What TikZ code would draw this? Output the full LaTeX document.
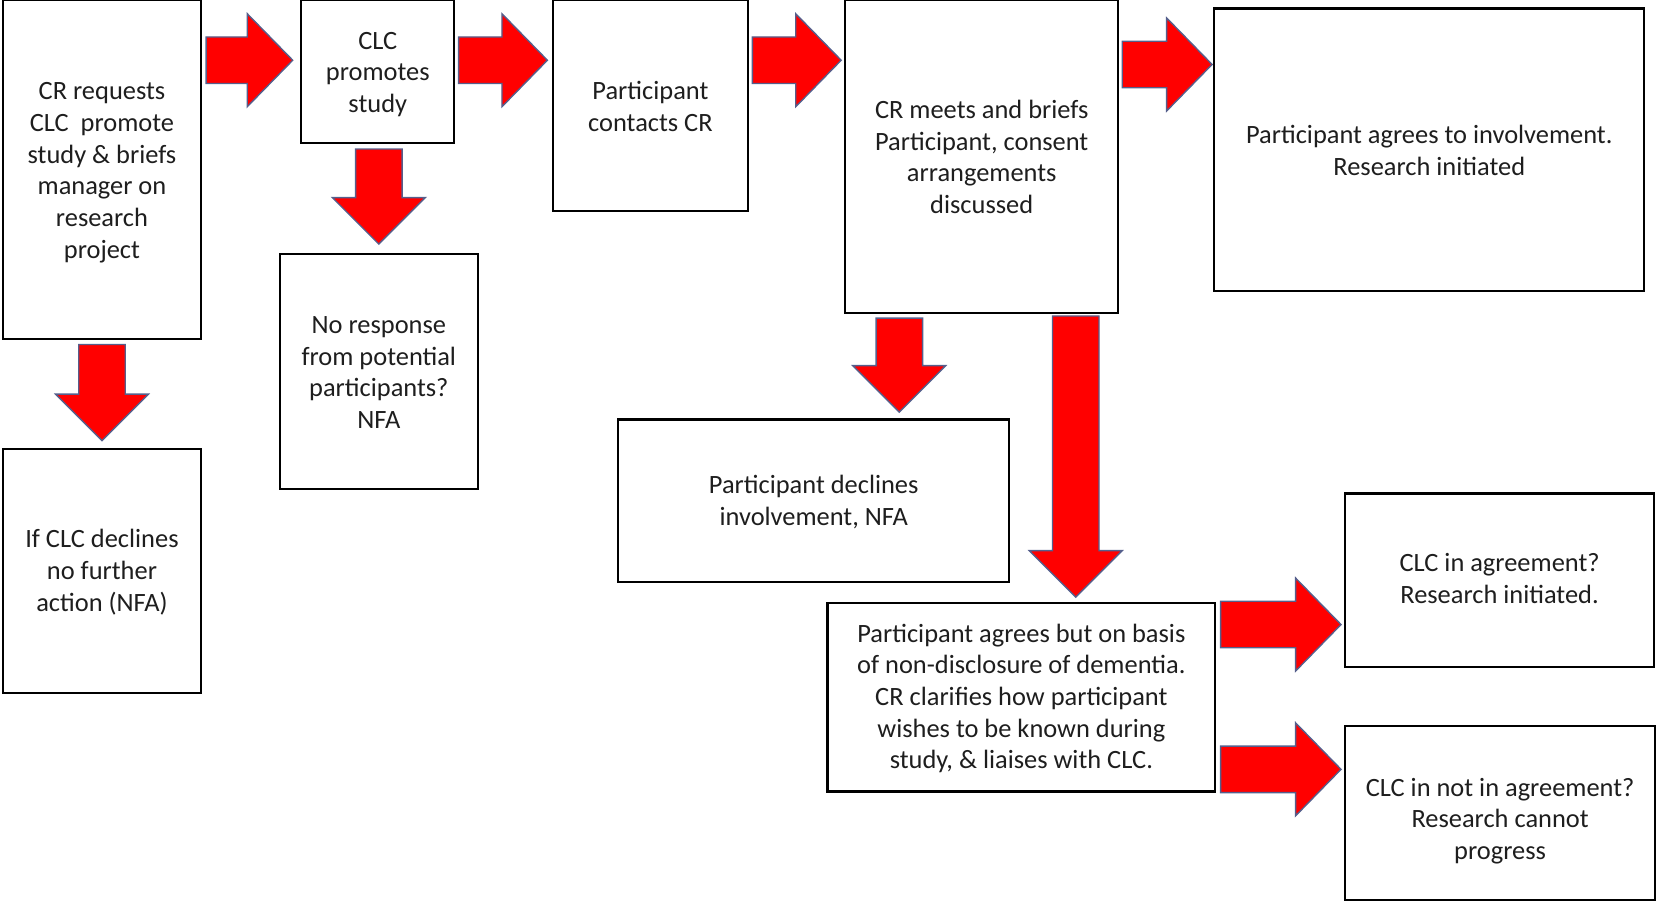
\documentclass[tikz,border=0pt]{standalone}
\usepackage{fontspec}
\setmainfont{Carlito}
\usetikzlibrary{calc}
\definecolor{arrowred}{RGB}{255,0,0}
\definecolor{arrowedge}{RGB}{85,95,140}
\definecolor{inktext}{RGB}{30,30,30}

% Block arrow pointing right: #1 = tail point, #2 = tip point
\newcommand\rightblock[2]{%
  \draw[blk] let \p1=(#1), \p2=(#2) in
    (\x1,\y2+22pt) -- (\x2-43pt,\y2+22pt) -- (\x2-43pt,\y2+44pt) -- (\x2,\y2)
    -- (\x2-43pt,\y2-44pt) -- (\x2-43pt,\y2-22pt) -- (\x1,\y2-22pt) -- cycle;}
% Block arrow pointing down: #1 = tail point, #2 = tip point
\newcommand\downblock[2]{%
  \draw[blk] let \p1=(#1), \p2=(#2) in
    (\x2-22pt,\y1) -- (\x2-22pt,\y2+44pt) -- (\x2-44pt,\y2+44pt) -- (\x2,\y2)
    -- (\x2+44pt,\y2+44pt) -- (\x2+22pt,\y2+44pt) -- (\x2+22pt,\y1) -- cycle;}

\begin{document}
\begin{tikzpicture}[x=1pt,y=-1pt,
  txt/.style={inner sep=0pt, align=center, text=inktext,
    font=\fontsize{25}{30}\selectfont},
  box/.style={draw=black, line width=2pt, fill=white, inner sep=0pt},
  blk/.style={fill=arrowred, draw=arrowedge, line width=1.3pt, line join=miter}]

\useasboundingbox (0,0) rectangle (1568,854);

% Boxes
\node[box, minimum width=187, minimum height=321] (A) at (96.5,160.5) {};
\node[box, minimum width=145, minimum height=135] (B) at (357.5,67.5) {};
\node[box, minimum width=185, minimum height=200] (C) at (615.5,100) {};
\node[box, minimum width=258, minimum height=296] (D) at (929,148) {};
\node[box, minimum width=407, minimum height=267] (E) at (1352.5,141.5) {};
\node[box, minimum width=187, minimum height=231] (F) at (96.5,540.5) {};
\node[box, minimum width=187, minimum height=223] (G) at (358.5,351.5) {};
\node[box, minimum width=370, minimum height=154] (H) at (770,474) {};
\node[box, minimum width=367, minimum height=178] (I) at (966.5,660) {};
\node[box, minimum width=292, minimum height=164] (J) at (1419,549) {};
\node[box, minimum width=293, minimum height=165] (K) at (1419.5,769.5) {};

% Box texts
\node[txt] (At) at ($(A.center)+(0,3)$)
  {CR requests\\CLC~ promote\\study \& briefs\\manager on\\research\\project};
\node[txt] (Bt) at ($(B.center)+(0,3)$) {CLC\\promotes\\study};
\node[txt] (Ct) at ($(C.center)+(0,0.5)$) {Participant\\contacts CR};
\node[txt] (Dt) at ($(D.center)+(0,0.5)$)
  {CR meets and briefs\\Participant, consent\\arrangements\\discussed};
\node[txt] (Et) at ($(E.center)+(0,1)$)
  {Participant agrees to involvement.\\Research initiated};
\node[txt] (Ft) at ($(F.center)+(0,1)$) {If CLC declines\\no further\\action (NFA)};
\node[txt] (Gt) at ($(G.center)+(0,1)$)
  {No response\\from potential\\participants?\\NFA};
\node[txt] (Ht) at ($(H.center)+(0,1)$) {Participant declines\\involvement, NFA};
\node[txt] (It) at ($(I.center)+(0,1)$)
  {Participant agrees but on basis\\of non-disclosure of dementia.\\CR clarifies how participant\\wishes to be known during\\study, \& liaises with CLC.};
\node[txt] (Jt) at ($(J.center)+(0,-1.5)$) {CLC in agreement?\\Research initiated.};
\node[txt] (Kt) at ($(K.center)+(0,7.5)$)
  {CLC in not in agreement?\\Research cannot\\progress};

% Arrows along the top row
\rightblock{$(A.north east)+(4,58)$}{$(B.north west)+(-7,58)$}
\rightblock{$(B.north east)+(3,58)$}{$(C.north west)+(-4,58)$}
\rightblock{$(C.north east)+(3,58)$}{$(D.north west)+(-3,58)$}
\rightblock{$(D.north east)+(3,62)$}{$(E.west|-D.north)+(-1,62)$}

% Downward arrows
\downblock{$(A.south)+(0,4)$}{$(F.north)+(0,-7)$}
\downblock{$(B.south)+(0,5)$}{$(G.north)+(0,-8)$}
\downblock{$(D.south west)+(52,4)$}{$(H.north west)+(267,-6)$}
\downblock{$(D.south west)+(219,2)$}{$(I.north west)+(236,-5)$}

% Arrows to the two outcomes
\rightblock{$(I.north east)+(4,21)$}{$(J.west|-I.north)+(-3,21)$}
\rightblock{$(I.north east)+(4,158)$}{$(K.west|-I.north)+(-3,158)$}
\end{tikzpicture}
\end{document}
